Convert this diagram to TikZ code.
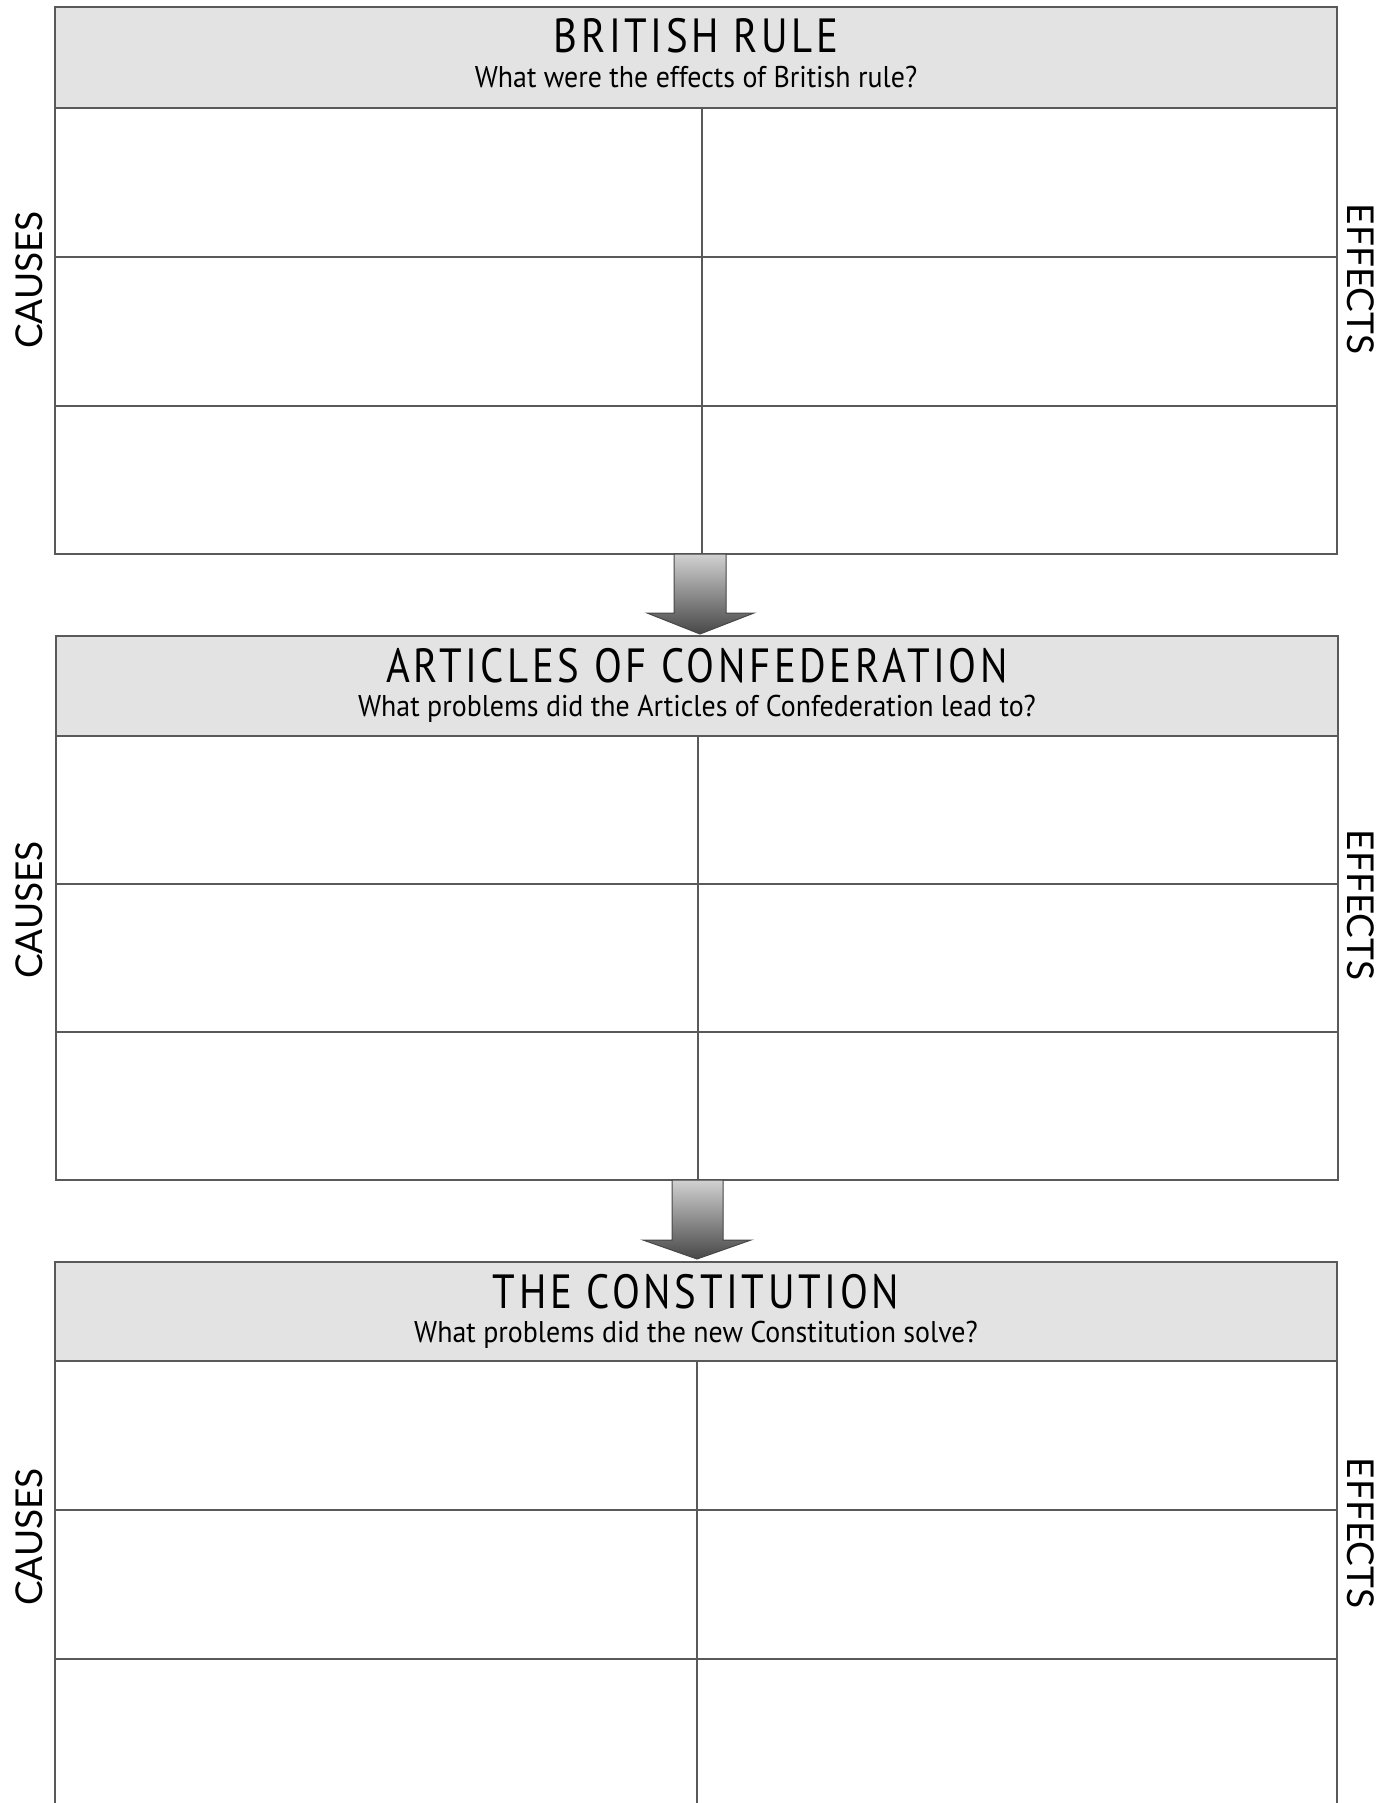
\documentclass[tikz,border=0pt]{standalone}
\usepackage{fontspec}
\setmainfont{PT Sans}
\newfontfamily\headfont[FakeStretch=0.85,LetterSpace=7.5]{PT Sans}
\newfontfamily\askfont[FakeStretch=0.93]{PT Sans}
\newfontfamily\sidefont{Lato}
\usetikzlibrary{positioning, calc}
\colorlet{line color}{black!65}
\colorlet{header color}{black!11}
\tikzset{grid line/.style={line width=2.2pt, draw=line color}}
\tikzset{header/.style={fill=header color, grid line}}
\tikzset{title/.style={font=\headfont\fontsize{48}{48}\selectfont, anchor=base, inner sep=0pt}}
\tikzset{question/.style={font=\askfont\fontsize{30}{30}\selectfont, anchor=base, inner sep=0pt}}
\tikzset{side/.style={font=\sidefont\fontsize{37}{37}\selectfont, inner sep=0pt}}
\tikzset{down arrow/.style={draw=black!72, line width=1pt, top color=black!18, bottom color=black!72}}

\begin{document}
\begin{tikzpicture}[x=1pt, y=-1pt]
    \useasboundingbox (0,0) rectangle (1397,1803);
    % british rule
    \draw[header] (55,7) rectangle (1337,108);
    \draw[grid line] (55,108) rectangle (1337,554);
    \draw[grid line] (55,257) -- (1337,257);
    \draw[grid line] (55,406) -- (1337,406);
    \draw[grid line] (702,108) -- (702,554);
    \node[title] (british) at (696,53) {BRITISH RULE};
    \node[question] (britishq) at (696,88) {What were the effects of British rule?};
    \node[side, rotate=90] (causesa) at (29,280) {CAUSES};
    \node[side, rotate=-90] (effectsa) at (1361,279) {EFFECTS};

    \draw[down arrow] (674,554) -- (674,613) -- (647,613) -- (700,634) -- (754,613) -- (726,613) -- (726,554) -- cycle;

    % articles of confederation
    \draw[header] (56,636) rectangle (1338,736);
    \draw[grid line] (56,736) rectangle (1338,1180);
    \draw[grid line] (56,884) -- (1338,884);
    \draw[grid line] (56,1032) -- (1338,1032);
    \draw[grid line] (698,736) -- (698,1180);
    \node[title] (articles) at (697,682) {ARTICLES OF CONFEDERATION};
    \node[question] (articlesq) at (697,716) {What problems did the Articles of Confederation lead to?};
    \node[side, rotate=90] (causesb) at (29,910) {CAUSES};
    \node[side, rotate=-90] (effectsb) at (1361,905) {EFFECTS};

    \draw[down arrow] (672,1180) -- (672,1240) -- (643,1240) -- (697,1259) -- (751,1240) -- (723,1240) -- (723,1180) -- cycle;

    % the constitution
    \draw[header] (55,1262) rectangle (1337,1361);
    \draw[grid line] (55,1361) rectangle (1337,1820);
    \draw[grid line] (55,1510) -- (1337,1510);
    \draw[grid line] (55,1659) -- (1337,1659);
    \draw[grid line] (697,1361) -- (697,1820);
    \node[title] (constitution) at (696,1308) {THE CONSTITUTION};
    \node[question] (constitutionq) at (696,1342) {What problems did the new Constitution solve?};
    \node[side, rotate=90] (causesc) at (29,1537) {CAUSES};
    \node[side, rotate=-90] (effectsc) at (1361,1533) {EFFECTS};
\end{tikzpicture}
\end{document}
